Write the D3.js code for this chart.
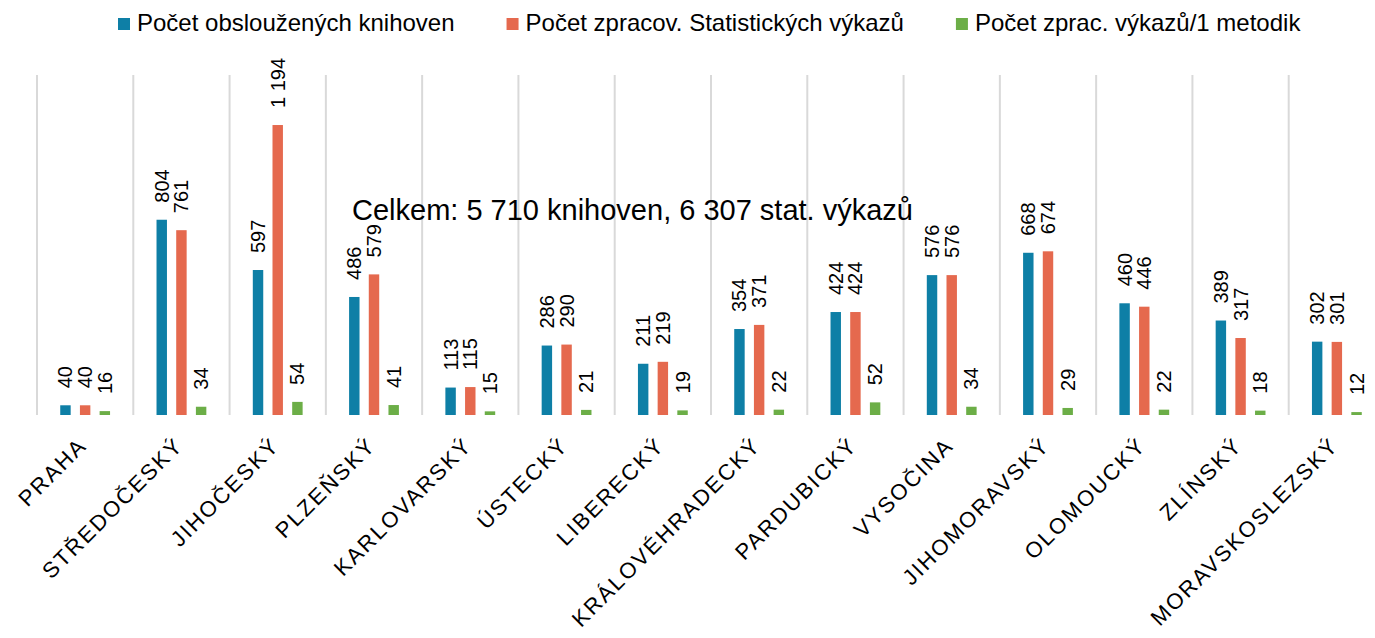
<!DOCTYPE html>
<html>
<head>
<meta charset="utf-8">
<script src="https://cdn.jsdelivr.net/npm/d3@7"></script>
<style>
  body { margin: 0; background: #fff; }
  svg { display: block; font-family: "Liberation Sans", Arial, sans-serif; }
</style>
</head>
<body>
<script>
// kraje
var categories = ["PRAHA", "STŘEDOČESKÝ", "JIHOČESKÝ", "PLZEŇSKÝ", "KARLOVARSKÝ", "ÚSTECKÝ",
  "LIBERECKÝ", "KRÁLOVÉHRADECKÝ", "PARDUBICKÝ", "VYSOČINA", "JIHOMORAVSKÝ",
  "OLOMOUCKÝ", "ZLÍNSKÝ", "MORAVSKOSLEZSKÝ"];

var seriesNames = ["Počet obsloužených knihoven", "Počet zpracov. Statistických výkazů", "Počet zprac. výkazů/1 metodik"];
var knihovny = [40, 804, 597, 486, 113, 286, 211, 354, 424, 576, 668, 460, 389, 302];
var vykazy   = [40, 761, 1194, 579, 115, 290, 219, 371, 424, 576, 674, 446, 317, 301];
var metodik  = [16, 34, 54, 41, 15, 21, 19, 22, 52, 34, 29, 22, 18, 12];
var colors = ["#0e7fa6", "#e5694e", "#6cae47"];
var note = "Celkem: 5 710 knihoven, 6 307 stat. výkazů";

var width = 1375, height = 638;
var plot = {left: 37, right: 1385, top: 75, bottom: 415};

var svg = d3.select("body").append("svg")
    .attr("width", width)
    .attr("height", height);

var fmt = d3.formatLocale({decimal: ",", thousands: "\u00a0", grouping: [3], currency: ["", ""]}).format(",d");

var x = d3.scaleBand().domain(categories).range([plot.left, plot.right]).padding(0);
var x1 = d3.scaleBand().domain([0, 1, 2]).range([0, x.bandwidth()])
    .paddingInner(0.47).paddingOuter(1.18);
var y = d3.scaleLinear().domain([0, 1400]).range([plot.bottom, plot.top]);

// svisle mrizky
svg.append("g").selectAll("line")
  .data(categories)
  .enter().append("line")
    .attr("x1", function(d) { return x(d); })
    .attr("x2", function(d) { return x(d); })
    .attr("y1", y(1400))
    .attr("y2", y(0))
    .attr("stroke", "#d9d9d9")
    .attr("stroke-width", 2);

var rows = categories.map(function(c, i) {
  return {cat: c, vals: [knihovny[i], vykazy[i], metodik[i]]};
});

var groups = svg.append("g").selectAll("g")
  .data(rows)
  .enter().append("g")
    .attr("transform", function(d) { return "translate(" + x(d.cat) + ",0)"; });

var items = groups.selectAll("g")
  .data(function(d) { return d.vals.map(function(v, k) { return {k: k, v: v}; }); })
  .enter().append("g");

items.append("rect")
    .attr("x", function(d) { return x1(d.k); })
    .attr("width", x1.bandwidth())
    .attr("y", function(d) { return y(d.v); })
    .attr("height", function(d) { return y(0) - y(d.v); })
    .attr("fill", function(d) { return colors[d.k]; });

items.append("text")
    .attr("transform", function(d) {
      return "translate(" + (x1(d.k) + x1.bandwidth() / 2) + "," + (y(d.v) - 17) + ") rotate(-90)";
    })
    .attr("dy", "0.35em")
    .attr("font-size", 20)
    .attr("fill", "#000")
    .text(function(d) { return fmt(d.v); });

// popisky krajů
svg.append("g").selectAll("text")
  .data(categories)
  .enter().append("text")
    .attr("transform", function(d) {
      return "translate(" + (x(d) + x.bandwidth() / 2 + 3) + ",447) rotate(-45)";
    })
    .attr("text-anchor", "end")
    .attr("font-size", 22)
    .attr("letter-spacing", 2)
    .attr("fill", "#000")
    .text(function(d) { return d; });

// poznamka
svg.append("text")
    .attr("x", 352)
    .attr("y", 220)
    .attr("font-size", 29)
    .attr("fill", "#000")
    .text(note);

// legenda
var legend = svg.append("g");
var lx = 0;
seriesNames.forEach(function(name, k) {
  var g = legend.append("g").attr("transform", "translate(" + lx + ",0)");
  g.append("rect").attr("x", 0).attr("y", 18).attr("width", 12).attr("height", 12).attr("fill", colors[k]);
  var t = g.append("text").attr("x", 19).attr("y", 31).attr("font-size", 24).attr("fill", "#000").text(name);
  lx += 19 + t.node().getComputedTextLength() + 52;
});
legend.attr("transform", "translate(118,0)");
</script>
</body>
</html>
